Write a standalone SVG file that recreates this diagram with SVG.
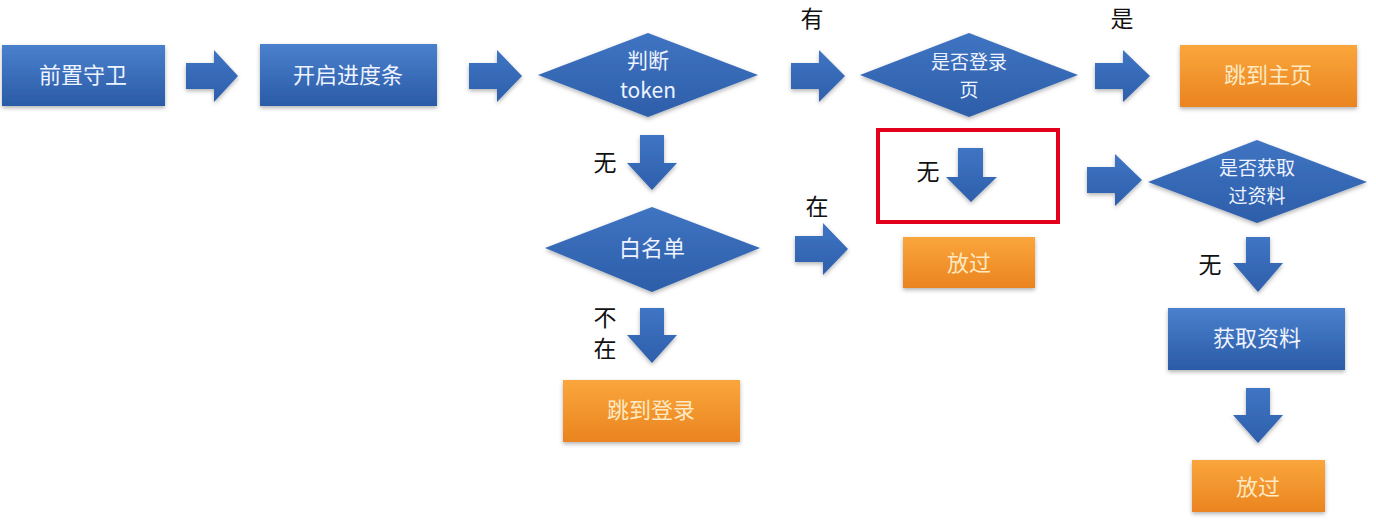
<svg xmlns="http://www.w3.org/2000/svg" width="1376" height="526" viewBox="0 0 1376 526">
<defs>
<linearGradient id="gb" x1="0" y1="0" x2="0" y2="1">
<stop offset="0" stop-color="#4a80cd"/>
<stop offset="1" stop-color="#2a5ba6"/>
</linearGradient>
<linearGradient id="gd" x1="0" y1="0" x2="0" y2="1">
<stop offset="0" stop-color="#3f74c2"/>
<stop offset="1" stop-color="#2d5ea9"/>
</linearGradient>
<linearGradient id="go" x1="0" y1="0" x2="0" y2="1">
<stop offset="0" stop-color="#faa63c"/>
<stop offset="1" stop-color="#ea8420"/>
</linearGradient>
<linearGradient id="ga" x1="0" y1="0" x2="0" y2="1">
<stop offset="0" stop-color="#3f75c4"/>
<stop offset="1" stop-color="#2e5fab"/>
</linearGradient>
<filter id="sh" x="-10%" y="-10%" width="120%" height="130%">
<feDropShadow dx="0" dy="2" stdDeviation="2" flood-color="#000" flood-opacity="0.3"/>
</filter>
</defs>
<style>
.box{fill:url(#gb);filter:url(#sh)}
.dia{fill:url(#gd);filter:url(#sh)}
.org{fill:url(#go);filter:url(#sh)}
.arr{fill:url(#ga);filter:url(#sh)}
.tw{font-family:"Noto Sans CJK SC","Noto Sans",sans-serif;font-size:22px;fill:#eef3ff;text-anchor:middle;dominant-baseline:central}
.tm{font-size:21px}
.ts{font-size:19px}
.to{fill:#fde9c2}
.lb{font-family:"Noto Sans CJK SC","Noto Sans",sans-serif;font-size:23px;fill:#111;text-anchor:middle;dominant-baseline:central}
</style>
<g id="connectors">
<path class="arr" d="M186,63 H214 V50 L238,76 L214,102 V89 H186 Z"/>
<path class="arr" d="M469,63 H497 V50 L522,76 L497,102 V89 H469 Z"/>
<path class="arr" d="M791,63 H819 V50 L845,76 L819,102 V89 H791 Z"/>
<path class="arr" d="M1095,63 H1123 V50 L1150,76 L1123,102 V89 H1095 Z"/>
<path class="arr" d="M795,236 H823 V223 L848,249 L823,275 V262 H795 Z"/>
<path class="arr" d="M1087,167 H1115 V154 L1142,180 L1115,206 V193 H1087 Z"/>
<path class="arr" d="M640,135 H664 V163 H677 L652,190 L627,163 H640 Z"/>
<path class="arr" d="M640,308 H664 V335 H677 L652,363 L627,335 H640 Z"/>
<path class="arr" d="M958,148 H983 V177 H997 L971,202 L946,177 H958 Z"/>
<path class="arr" d="M1246,237 H1270 V263 H1283 L1258,292 L1233,263 H1246 Z"/>
<path class="arr" d="M1246,388 H1270 V415 H1283 L1258,443 L1233,415 H1246 Z"/>
</g>
<g id="labels">
<text class="lb" x="812" y="17">有</text>
<text class="lb" x="1122" y="17">是</text>
<text class="lb" x="605" y="161">无</text>
<text class="lb" x="817" y="205">在</text>
<text class="lb" x="605" y="316">不</text>
<text class="lb" x="605" y="347">在</text>
<text class="lb" x="928" y="170">无</text>
<text class="lb" x="1210" y="263">无</text>
</g>
<g id="n-guard">
<rect class="box" x="2" y="45" width="163" height="61"/>
<text class="tw" x="83" y="73">前置守卫</text>
</g>
<g id="n-progress">
<rect class="box" x="260" y="44" width="177" height="62"/>
<text class="tw" x="348" y="73">开启进度条</text>
</g>
<g id="n-token">
<polygon class="dia" points="538,75 648,33 758,75 648,117"/>
<text class="tw tm" x="648" y="59">判断</text>
<text class="tw tm" x="648" y="89">token</text>
</g>
<g id="n-islogin">
<polygon class="dia" points="860,75 969,33 1078,75 969,117"/>
<text class="tw ts" x="969" y="60">是否登录</text>
<text class="tw ts" x="969" y="88">页</text>
</g>
<g id="n-home">
<rect class="org" x="1180" y="45" width="177" height="62"/>
<text class="tw to" x="1268" y="73">跳到主页</text>
</g>
<g id="n-hasinfo">
<polygon class="dia" points="1148,182 1257,140 1367,182 1257,223"/>
<text class="tw ts" x="1257" y="166">是否获取</text>
<text class="tw ts" x="1257" y="194">过资料</text>
</g>
<g id="n-whitelist">
<polygon class="dia" points="545,248 652,207 760,248 652,292"/>
<text class="tw" x="652" y="246">白名单</text>
</g>
<g id="n-tologin">
<rect class="org" x="563" y="380" width="177" height="62"/>
<text class="tw to" x="651" y="408">跳到登录</text>
</g>
<g id="n-pass1">
<rect class="org" x="903" y="237" width="132" height="51"/>
<text class="tw to" x="969" y="261">放过</text>
</g>
<g id="n-getinfo">
<rect class="box" x="1168" y="308" width="177" height="62"/>
<text class="tw" x="1257" y="336">获取资料</text>
</g>
<g id="n-pass2">
<rect class="org" x="1192" y="460" width="133" height="52"/>
<text class="tw to" x="1258" y="485">放过</text>
</g>
<g id="highlight">
<rect x="878" y="130" width="180" height="92" fill="none" stroke="#e3001b" stroke-width="4"/>
</g>
</svg>
